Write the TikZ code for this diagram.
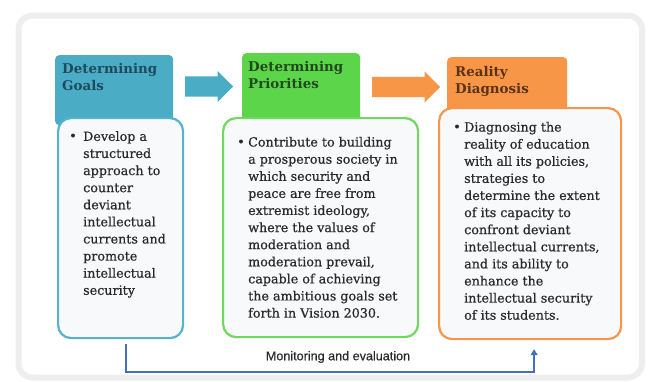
\documentclass[tikz,border=0pt]{standalone}
\usepackage{fontspec}
\setmainfont{DejaVu Serif}
\newfontfamily\bodyfont[FakeBold=0.6]{DejaVu Serif}
\newfontfamily\labelfont[FakeBold=0.5]{Liberation Sans}
\usetikzlibrary{arrows.meta,shapes.arrows,calc}
\definecolor{hblue}{HTML}{4BACC6}
\definecolor{hgreen}{HTML}{5DD54A}
\definecolor{horange}{HTML}{F79646}
\definecolor{bblue}{HTML}{55B3CE}
\definecolor{bgreen}{HTML}{6ED95C}
\definecolor{borange}{HTML}{F5964D}
\definecolor{bodyfill}{HTML}{F8F9FA}
\definecolor{tblue}{HTML}{1E4B5C}
\definecolor{tgreen}{HTML}{1F4A1C}
\definecolor{torange}{HTML}{5A3216}
\definecolor{txt}{HTML}{2A2A2A}
\definecolor{monline}{HTML}{4472B8}
\definecolor{framegray}{HTML}{EEEEEE}
\begin{document}
\begin{tikzpicture}[x=1pt,y=-1pt,
  header/.style={rounded corners=4pt, anchor=north west, inner sep=0pt},
  bodybox/.style={draw, line width=2.2pt, fill=bodyfill, rounded corners=13pt, anchor=north west, inner sep=0pt},
  headtext/.style={anchor=north west, inner sep=0pt, align=left, font=\bfseries\fontsize{13.4}{17}\selectfont},
  bodytext/.style={anchor=north west, inner sep=0pt, align=left, text=txt, font=\bodyfont\fontsize{12.7}{17.1}\selectfont},
  bul/.style={inner sep=0pt, text=txt, font=\bodyfont\fontsize{12.7}{17.1}\selectfont},
  blockarrow/.style={single arrow, anchor=tail, inner xsep=0pt, inner ysep=10pt, text height=0pt, text depth=0pt, single arrow head extend=5.5pt},
  mon/.style={draw=monline, line width=2pt, -{Triangle[width=7pt,length=6pt]}},
  monlabel/.style={inner sep=0pt, text=txt, font=\labelfont\fontsize{12.6}{14}\selectfont}
]
\useasboundingbox (0,0) rectangle (651,381);
\fill[white] (0,0) rectangle (651,381);
\draw[framegray, line width=6pt, rounded corners=14pt, fill=white] (18.5,15.5) rectangle (642,377.5);

% headers
\node[header, fill=hblue, minimum width=118pt, minimum height=70pt] (h1) at (55,55) {};
\node[header, fill=hgreen, minimum width=118pt, minimum height=70pt] (h2) at (242,53) {};
\node[header, fill=horange, minimum width=120pt, minimum height=60pt] (h3) at (447,57) {};

% bodies
\node[bodybox, draw=bblue, minimum width=125pt, minimum height=220pt] (b1) at (57,117) {};
\node[bodybox, draw=bgreen, minimum width=195pt, minimum height=219pt] (b2) at (222,117) {};
\node[bodybox, draw=borange, minimum width=182pt, minimum height=231pt] (b3) at (438,107) {};

% header texts
\node[headtext, text=tblue] (ht1) at (62,63.5) {Determining\\Goals};
\node[headtext, text=tgreen] (ht2) at (248,61.5) {Determining\\Priorities};
\node[headtext, text=torange] (ht3) at (455,66.5) {Reality\\Diagnosis};

% arrows
\node[blockarrow, fill=hblue, minimum height=48pt] (a1) at (185,86.5) {};
\node[blockarrow, fill=horange, minimum height=68pt] (a2) at (372,87) {};

% bullets
\node[bul] (u1) at (73,137) {\textbullet};
\node[bul] (u2) at (241,143) {\textbullet};
\node[bul] (u3) at (457,128) {\textbullet};

% body texts
\node[bodytext] (t1) at (83,131) {Develop a\\structured\\approach to\\counter\\deviant\\intellectual\\currents and\\promote\\intellectual\\security};
\node[bodytext] (t2) at (248,136.7) {Contribute to building\\a prosperous society in\\which security and\\peace are free from\\extremist ideology,\\where the values of\\moderation and\\moderation prevail,\\capable of achieving\\the ambitious goals set\\forth in Vision 2030.};
\node[bodytext] (t3) at (464,121.7) {Diagnosing the\\reality of education\\with all its policies,\\strategies to\\determine the extent\\of its capacity to\\confront deviant\\intellectual currents,\\and its ability to\\enhance the\\intellectual security\\of its students.};

% monitoring connector
\coordinate (ms) at ([xshift=5.5pt,yshift=-5pt]b1.south);
\coordinate (me) at ([xshift=4pt,yshift=-9pt]b3.south);
\draw[mon] (ms) -- ++(0,28) -| (me);
\node[monlabel] (ml) at (338,357) {Monitoring and evaluation};
\end{tikzpicture}
\end{document}
